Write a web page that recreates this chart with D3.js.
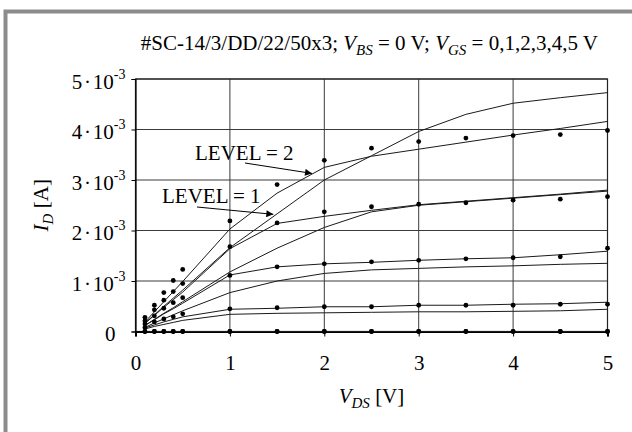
<!DOCTYPE html>
<html><head><meta charset="utf-8">
<script src="https://cdn.jsdelivr.net/npm/d3@7"></script>
<style>
body{margin:0;background:#fff}
</style>
</head><body><svg id="c" width="632" height="432"></svg>
<script>
// V_DS sample points [V]
const vds = [0.1,0.2,0.3,0.4,0.5,1,1.5,2,2.5,3,3.5,4,4.5,5];
const vgs = [0,1,2,3,4,5];
// measured drain current [mA] for each V_GS
const meas0 = [0,0,0,0,0,0,0,0,0,0,0,0,0,0];
const meas1 = [0,0,0,0,0,0,0,0,0,0,0,0,0,0];
const meas2 = [0.08,0.19,0.25,0.29,0.35,0.45,0.47,0.49,0.49,0.52,0.52,0.52,0.54,0.54];
const meas3 = [0.15,0.31,0.46,0.57,0.67,1.11,1.28,1.34,1.38,1.41,1.44,1.46,1.48,1.65];
const meas4 = [0.21,0.43,0.62,0.79,0.95,1.68,2.15,2.37,2.47,2.52,2.55,2.60,2.62,2.67];
const meas5 = [0.28,0.52,0.77,1.01,1.23,2.19,2.91,3.39,3.63,3.76,3.83,3.88,3.90,3.98];
// simulated, LEVEL = 1 [mA]
const level1_0 = [0,0,0,0,0,0,0,0,0,0,0,0,0,0];
const level1_1 = [0,0,0,0,0,0,0,0,0,0,0,0,0,0];
const level1_2 = [0.05,0.10,0.14,0.18,0.22,0.34,0.36,0.37,0.38,0.39,0.39,0.40,0.41,0.44];
const level1_3 = [0.08,0.17,0.25,0.33,0.41,0.77,1.00,1.15,1.22,1.25,1.28,1.30,1.33,1.35];
const level1_4 = [0.12,0.24,0.36,0.47,0.59,1.18,1.65,2.06,2.37,2.50,2.57,2.64,2.71,2.78];
const level1_5 = [0.17,0.33,0.50,0.66,0.82,1.66,2.33,3.00,3.48,3.96,4.30,4.52,4.63,4.73];
// simulated, LEVEL = 2 [mA]
const level2_0 = [0,0,0,0,0,0,0,0,0,0,0,0,0,0];
const level2_1 = [0,0,0,0,0,0,0,0,0,0,0,0,0,0];
const level2_2 = [0.07,0.13,0.19,0.24,0.29,0.44,0.46,0.49,0.49,0.52,0.52,0.54,0.55,0.58];
const level2_3 = [0.12,0.23,0.35,0.45,0.56,1.12,1.28,1.34,1.37,1.41,1.44,1.46,1.52,1.59];
const level2_4 = [0.16,0.32,0.48,0.63,0.78,1.64,2.14,2.28,2.40,2.51,2.58,2.65,2.72,2.80];
const level2_5 = [0.19,0.39,0.59,0.79,0.99,2.03,2.74,3.25,3.47,3.61,3.75,3.89,4.02,4.16];

const xTicks = [0,1,2,3,4,5];
const yTickMant = [0,1,2,3,4,5];   // ×10^-3 A
const yTickExp = "-3";
const unit = 1e-3;

const measured = [meas0,meas1,meas2,meas3,meas4,meas5];
const level1 = [level1_0,level1_1,level1_2,level1_3,level1_4,level1_5];
const level2 = [level2_0,level2_1,level2_2,level2_3,level2_4,level2_5];

const FONT = "'Liberation Serif', 'Times New Roman', serif";
const svg = d3.select("#c");
svg.append("rect").attr("width",632).attr("height",432).attr("fill","#fff");
// outer gray frame
svg.append("rect").attr("x",5.5).attr("y",11.5).attr("width",700).attr("height",500)
  .attr("fill","none").attr("stroke","#8c8c8c").attr("stroke-width",4);

const x = d3.scaleLinear().domain([0,5]).range([135.5,607.5]);
const y = d3.scaleLinear().domain([0,5*unit]).range([331.5,79]);

// grid
const grid = svg.append("g");
grid.selectAll("line.v").data(xTicks).join("line")
  .attr("x1",d=>x(d)).attr("x2",d=>x(d)).attr("y1",y(0)).attr("y2",y(5*unit))
  .attr("stroke","#3a3a3a").attr("stroke-width",1);
grid.selectAll("line.h").data(yTickMant).join("line")
  .attr("y1",d=>y(d*unit)).attr("y2",d=>y(d*unit)).attr("x1",x(0)).attr("x2",x(5))
  .attr("stroke","#3a3a3a").attr("stroke-width",1);
// frame
svg.append("rect").attr("x",x(0)).attr("y",y(5*unit)).attr("width",x(5)-x(0)).attr("height",y(0)-y(5*unit))
  .attr("fill","none").attr("stroke","#222").attr("stroke-width",1.2);

// axes
const xa = svg.append("g").attr("transform",`translate(0,${y(0)})`)
  .call(d3.axisBottom(x).tickValues(xTicks).tickSize(5).tickPadding(19).tickFormat(d3.format("d")));
xa.attr("font-family",FONT).attr("font-size",21);
xa.select(".domain").attr("stroke","#000").attr("stroke-width",2);
xa.selectAll(".tick line").attr("stroke","#000");
xa.selectAll(".tick text").attr("fill","#000");

const ya = svg.append("g").attr("transform",`translate(${x(0)},0)`)
  .call(d3.axisLeft(y).tickValues(yTickMant.map(v=>v*unit)).tickSize(4).tickFormat(""));
ya.attr("font-family",FONT).attr("font-size",21);
ya.select(".domain").attr("stroke","#000").attr("stroke-width",1.2);
ya.selectAll(".tick line").attr("stroke","#000");
ya.selectAll(".tick").each(function(d){
  const m = Math.round(d/unit);
  const g = d3.select(this);
  g.select("text").remove();
  const t = g.append("text").attr("y",9).attr("fill","#000").attr("text-anchor","end");
  if(m===0){ t.attr("x",-20).text("0"); }
  else {
    t.attr("x",-10);
    t.append("tspan").text(m + "\u200A·\u200A10");
    t.append("tspan").attr("dy",-10).attr("font-size",14).text(yTickExp);
  }
});

// model lines
const line = d3.line().x(d=>x(d[0])).y(d=>y(d[1]*unit));
const linesG = svg.append("g");
[...level1, ...level2].forEach(arr=>{
  linesG.append("path").datum(vds.map((v,i)=>[v,arr[i]])).attr("d",line)
    .attr("fill","none").attr("stroke","#1a1a1a").attr("stroke-width",1);
});

// measured dots
const dotsG = svg.append("g");
measured.forEach(arr=>{
  dotsG.selectAll(null).data(vds.map((v,i)=>[v,arr[i]])).join("circle")
    .attr("cx",d=>x(d[0])).attr("cy",d=>y(d[1]*unit)).attr("r",2.4).attr("fill","#000");
});

// annotations
const defs = svg.append("defs");
defs.append("marker").attr("id","ah").attr("viewBox","0 0 10 10").attr("refX",10).attr("refY",5)
  .attr("markerWidth",10).attr("markerHeight",7).attr("markerUnits","userSpaceOnUse").attr("orient","auto")
  .append("path").attr("d","M0,0L10,5L0,10z").attr("fill","#000");

function annot(label, tx, ty, x0, y0, xv, yv){
  svg.append("text").attr("x",tx).attr("y",ty).attr("font-family",FONT).attr("font-size",21).text(label);
  svg.append("line").attr("x1",x0).attr("y1",y0).attr("x2",x(xv)).attr("y2",y(yv*unit))
    .attr("stroke","#000").attr("stroke-width",1).attr("marker-end","url(#ah)");
}
annot("LEVEL = 2", 195, 160, 245, 163, 1.87, 3.13);
annot("LEVEL = 1", 162, 203, 197, 207, 1.46, 2.32);

// title
const title = svg.append("text").attr("x",598).attr("y",50).attr("text-anchor","end")
  .attr("font-family",FONT).attr("font-size",21);
title.append("tspan").text("#SC-14/3/DD/22/50x3; ");
title.append("tspan").attr("font-style","italic").text("V");
title.append("tspan").attr("font-style","italic").attr("dy",5).attr("font-size",15).text("BS");
title.append("tspan").attr("dy",-5).text(" = 0 V; ");
title.append("tspan").attr("font-style","italic").text("V");
title.append("tspan").attr("font-style","italic").attr("dy",5).attr("font-size",15).text("GS");
title.append("tspan").attr("dy",-5).text(" = 0,1,2,3,4,5 V");

// axis titles
const xt = svg.append("text").attr("x",(x(0)+x(5))/2).attr("y",403).attr("text-anchor","middle")
  .attr("font-family",FONT).attr("font-size",21);
xt.append("tspan").attr("font-style","italic").text("V");
xt.append("tspan").attr("font-style","italic").attr("dy",5).attr("font-size",15).text("DS");
xt.append("tspan").attr("dy",-5).text(" [V]");

const yt = svg.append("text").attr("transform",`translate(48,${(y(0)+y(5*unit))/2}) rotate(-90)`)
  .attr("text-anchor","middle").attr("font-family",FONT).attr("font-size",21);
yt.append("tspan").attr("font-style","italic").text("I");
yt.append("tspan").attr("font-style","italic").attr("dy",5).attr("font-size",15).text("D");
yt.append("tspan").attr("dy",-5).text(" [A]");
</script>
</body></html>
